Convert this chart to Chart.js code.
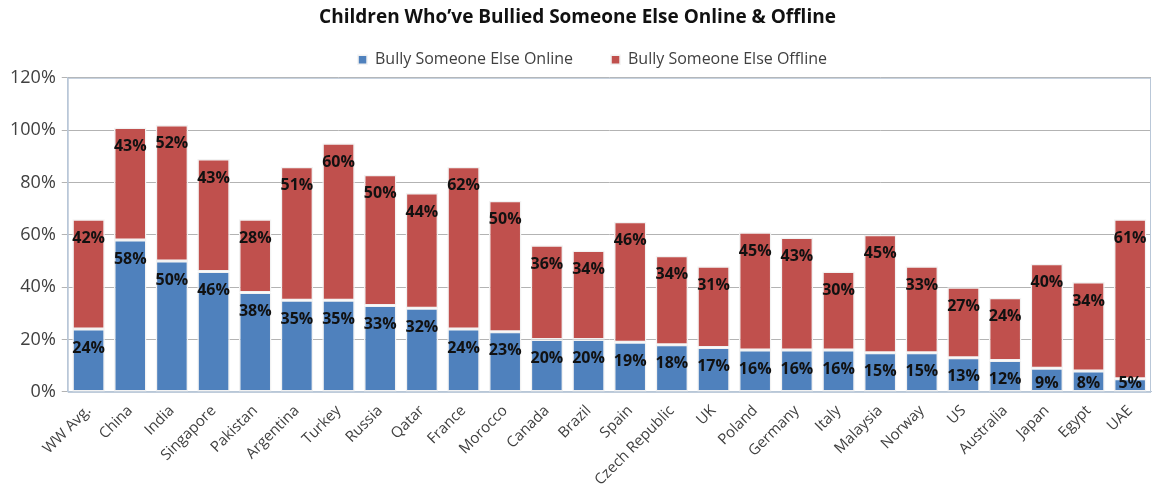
<!DOCTYPE html>
<html>
<head>
<meta charset="utf-8">
<script src="https://cdn.jsdelivr.net/npm/chart.js@4.4.1/dist/chart.umd.min.js"></script>
<style>
  html, body { margin: 0; padding: 0; background: #ffffff; }
  #wrap { width: 1165px; height: 495px; }
</style>
</head>
<body>
<div id="wrap"><canvas id="bullyChart" width="1165" height="495"></canvas></div>
<script>
// data
const countries = ['WW Avg.', 'China', 'India', 'Singapore', 'Pakistan', 'Argentina', 'Turkey', 'Russia', 'Qatar',
  'France', 'Morocco', 'Canada', 'Brazil', 'Spain', 'Czech Republic', 'UK', 'Poland', 'Germany', 'Italy',
  'Malaysia', 'Norway', 'US', 'Australia', 'Japan', 'Egypt', 'UAE'];
const onlineVals = [24, 58, 50, 46, 38, 35, 35, 33, 32, 24, 23, 20, 20, 19, 18, 17, 16, 16, 16, 15, 15, 13, 12, 9, 8, 5];
const offlineVals = [42, 43, 52, 43, 28, 51, 60, 50, 44, 62, 50, 36, 34, 46, 34, 31, 45, 43, 30, 45, 33, 27, 24, 40, 34, 61];
const yTicks = [0, 20, 40, 60, 80, 100, 120];

const fontFamily = "'Open Sans', 'Noto Sans', sans-serif";
const textColor = '#404040';

// labels sit just inside the top of each segment, like Excel "inside end"
const segmentLabels = {
  id: 'segmentLabels',
  afterDatasetsDraw(chart) {
    const ctx = chart.ctx;
    const floor = chart.chartArea.bottom - 8;
    ctx.save();
    ctx.font = 'bold 16px ' + fontFamily;
    ctx.fillStyle = '#111111';
    ctx.textAlign = 'center';
    ctx.textBaseline = 'middle';
    chart.data.datasets.forEach((ds, i) => {
      chart.getDatasetMeta(i).data.forEach((bar, j) => {
        ctx.fillText(ds.data[j] + '%', bar.x, Math.min(bar.y + 19, floor));
      });
    });
    ctx.restore();
  }
};

// legend counts a trailing gap when centring, nudge it back over the plot
const legendNudge = {
  id: 'legendNudge',
  afterInit(chart) {
    const draw = chart.legend.draw;
    chart.legend.draw = function (area) {
      this.ctx.save();
      this.ctx.translate(15, 0);
      draw.call(this, area);
      this.ctx.restore();
    };
  }
};

// thin frame round the plot area
const plotFrame = {
  id: 'plotFrame',
  beforeDatasetsDraw(chart) {
    const { ctx, chartArea: a } = chart;
    ctx.save();
    ctx.strokeStyle = '#b9c7d8';
    ctx.lineWidth = 1;
    ctx.strokeRect(a.left + 0.5, a.top + 0.5, a.right - a.left - 1, a.bottom - a.top);
    ctx.restore();
  }
};

Chart.defaults.font.family = fontFamily;
Chart.defaults.color = textColor;

new Chart(document.getElementById('bullyChart'), {
  type: 'bar',
  data: {
    labels: countries,
    datasets: [
      {
        label: 'Bully Someone Else Online',
        data: onlineVals,
        backgroundColor: '#4f81bd',
        borderColor: '#f2f2f2',
        borderWidth: 1.5,
        borderSkipped: false
      },
      {
        label: 'Bully Someone Else Offline',
        data: offlineVals,
        backgroundColor: '#c0504d',
        borderColor: '#f2f2f2',
        borderWidth: 1.5,
        borderSkipped: false
      }
    ]
  },
  options: {
    responsive: false,
    animation: false,
    devicePixelRatio: 1,
    layout: { padding: { left: 4, right: 14, top: 2, bottom: 4 } },
    datasets: { bar: { categoryPercentage: 1.0, barPercentage: 0.78 } },
    plugins: {
      title: {
        display: true,
        text: 'Children Who’ve Bullied Someone Else Online & Offline',
        color: '#111111',
        font: { size: 19, weight: 'bold' },
        // negative bottom pulls the legend up, its wide padding is vertical too
        padding: { top: 4, bottom: -15 }
      },
      legend: {
        display: true,
        position: 'top',
        labels: {
          boxWidth: 9,
          boxHeight: 9,
          padding: 38,
          color: textColor,
          font: { size: 16 }
        }
      },
      tooltip: { enabled: false }
    },
    scales: {
      x: {
        stacked: true,
        grid: { display: false },
        border: { display: true, color: '#b9c7d8' },
        ticks: {
          minRotation: 45,
          maxRotation: 45,
          autoSkip: false,
          color: textColor,
          font: { size: 15 },
          padding: 2
        }
      },
      y: {
        stacked: true,
        min: 0,
        max: 120,
        afterBuildTicks(axis) {
          axis.ticks = yTicks.map(v => ({ value: v }));
        },
        grid: { color: '#b3b3b3', drawTicks: true, tickLength: 6 },
        border: { display: true, color: '#b9c7d8' },
        ticks: {
          color: textColor,
          font: { size: 18 },
          padding: 6,
          callback: v => v + '%'
        }
      }
    }
  },
  plugins: [legendNudge, plotFrame, segmentLabels]
});
</script>
</body>
</html>
